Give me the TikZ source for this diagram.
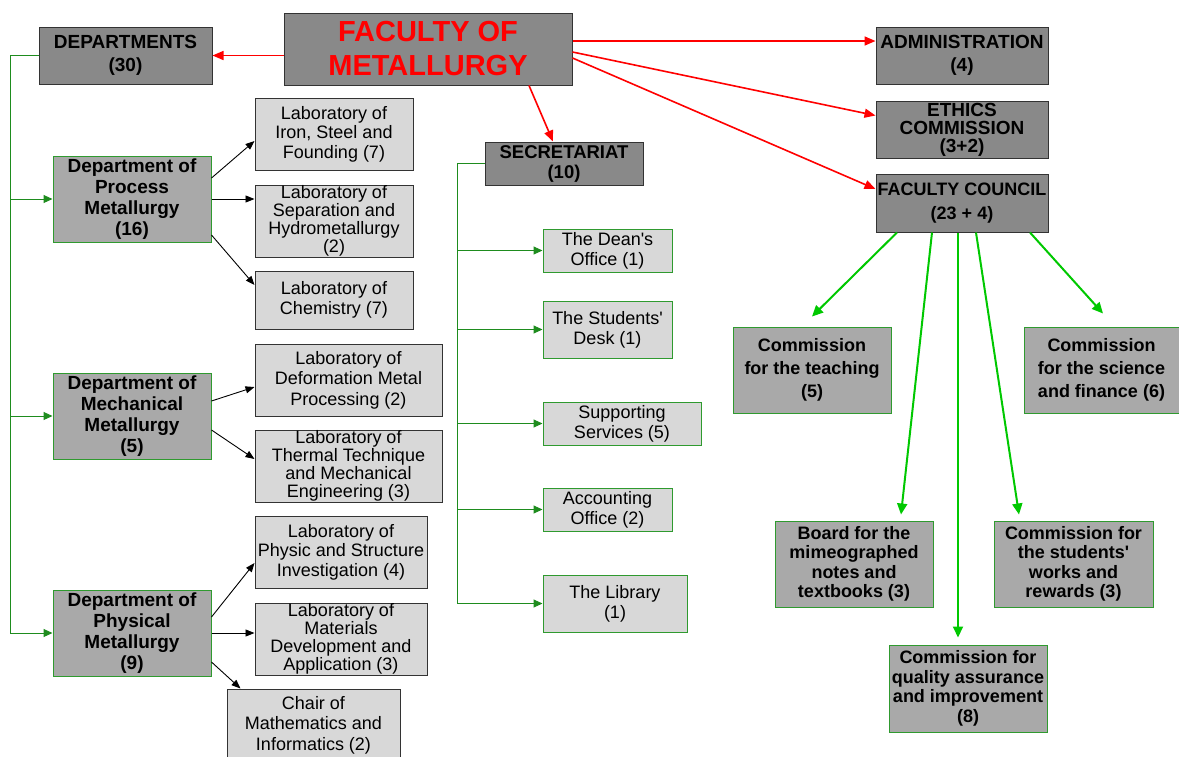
\documentclass[tikz,border=0pt]{standalone}
\usepackage{fontspec}
\setmainfont{Liberation Sans}
\usetikzlibrary{arrows.meta}
\definecolor{boxdark}{HTML}{898989}
\definecolor{boxmid}{HTML}{A9A9A9}
\definecolor{boxlight}{HTML}{D8D8D8}
\definecolor{edgegreen}{HTML}{2F9A2F}
\definecolor{treegreen}{HTML}{1E8C1E}
\definecolor{limegreen}{HTML}{00C800}
\begin{document}
\begin{tikzpicture}[x=1pt, y=-1pt,
  topbox/.style={draw=black!80, line width=1pt, fill=boxdark, align=center, inner sep=0pt, font=\bfseries\fontsize{19}{23.5}\selectfont},
  deptbox/.style={draw=edgegreen, line width=1pt, fill=boxmid, align=center, inner sep=0pt, minimum width=158pt, minimum height=86pt, font=\bfseries\fontsize{19}{21}\selectfont},
  labbox/.style={draw=black!80, line width=1pt, fill=boxlight, align=center, inner sep=0pt, font=\fontsize{18}{19.5}\selectfont},
  officebox/.style={draw=edgegreen, line width=1pt, fill=boxlight, align=center, inner sep=0pt, font=\fontsize{18}{20}\selectfont},
  commbox/.style={draw=edgegreen, line width=1pt, fill=boxmid, align=center, inner sep=0pt, minimum height=86pt, font=\bfseries\fontsize{18}{19.5}\selectfont},
  redarrow/.style={draw=red, line width=1.6pt, -{Triangle[length=11pt, width=9pt]}},
  treeline/.style={draw=treegreen, line width=1pt},
  treearrow/.style={draw=treegreen, line width=1pt, -{Triangle[length=9pt, width=8pt]}},
  blackarrow/.style={draw=black, line width=0.9pt, -{Triangle[length=9pt, width=7pt]}},
  limearrow/.style={draw=limegreen, line width=2pt, -{Triangle[length=11pt, width=10pt]}}]
\useasboundingbox (0,0) rectangle (1179,756);

\node[topbox, minimum width=288pt, minimum height=72pt, text=red, font=\bfseries\fontsize{29}{34}\selectfont] (faculty) at (428,49) {FACULTY OF\\METALLURGY};
\node[topbox, minimum width=173pt, minimum height=57pt] (departments) at (125.5,55.5) {DEPARTMENTS\\(30)};
\node[topbox, minimum width=172pt, minimum height=57pt] (admin) at (962,55.5) {ADMINISTRATION\\(4)};
\node[topbox, minimum width=172pt, minimum height=57pt, font=\bfseries\fontsize{19}{18}\selectfont] (ethics) at (962,129.5) {ETHICS\\COMMISSION\\(3+2)};
\node[topbox, minimum width=172pt, minimum height=58pt, font=\bfseries\fontsize{18}{23.5}\selectfont] (council) at (962,203) {FACULTY COUNCIL\\(23 + 4)};
\node[topbox, minimum width=158pt, minimum height=43pt, font=\bfseries\fontsize{18.5}{20}\selectfont] (secretariat) at (564,163.5) {SECRETARIAT\\(10)};

\node[deptbox] (process) at (132,199) {Department of\\Process\\Metallurgy\\(16)};
\node[deptbox] (mechanical) at (132,416) {Department of\\Mechanical\\Metallurgy\\(5)};
\node[deptbox] (physical) at (132,633) {Department of\\Physical\\Metallurgy\\(9)};

\node[labbox, minimum width=158pt, minimum height=72pt] (labiron) at (334,134) {Laboratory of\\Iron, Steel and\\Founding (7)};
\node[labbox, minimum width=158pt, minimum height=72pt, font=\fontsize{18}{18}\selectfont] (labsep) at (334,221) {Laboratory of\\Separation and\\Hydrometallurgy\\(2)};
\node[labbox, minimum width=158pt, minimum height=58pt, font=\fontsize{18}{20.5}\selectfont] (labchem) at (334,300) {Laboratory of\\Chemistry (7)};
\node[labbox, minimum width=187pt, minimum height=72pt, font=\fontsize{18}{20.5}\selectfont] (labdef) at (348.5,380) {Laboratory of\\Deformation Metal\\Processing (2)};
\node[labbox, minimum width=187pt, minimum height=72pt, font=\fontsize{18}{18}\selectfont] (labtherm) at (348.5,466) {Laboratory of\\Thermal Technique\\and Mechanical\\Engineering (3)};
\node[labbox, minimum width=172pt, minimum height=72pt] (labphys) at (341,552) {Laboratory of\\Physic and Structure\\Investigation (4)};
\node[labbox, minimum width=172pt, minimum height=72pt, font=\fontsize{18}{18}\selectfont] (labmat) at (341,639) {Laboratory of\\Materials\\Development and\\Application (3)};
\node[labbox, minimum width=173pt, minimum height=72pt, font=\fontsize{18}{20.5}\selectfont] (chair) at (313.5,725) {Chair of\\Mathematics and\\Informatics (2)};

\node[officebox, minimum width=129pt, minimum height=43pt] (dean) at (607.5,250.5) {The Dean\textquotesingle s\\Office (1)};
\node[officebox, minimum width=129pt, minimum height=57pt] (desk) at (607.5,329.5) {The Students\textquotesingle\\Desk (1)};
\node[officebox, minimum width=158pt, minimum height=43pt] (support) at (622,423.5) {Supporting\\Services (5)};
\node[officebox, minimum width=129pt, minimum height=43pt] (accounting) at (607.5,509.5) {Accounting\\Office (2)};
\node[officebox, minimum width=144pt, minimum height=57pt] (library) at (615,603.5) {The Library\\(1)};

\node[commbox, minimum width=158pt, font=\bfseries\fontsize{18}{23}\selectfont] (commteach) at (812,370) {Commission\\for the teaching\\(5)};
\node[commbox, minimum width=155pt, font=\bfseries\fontsize{18}{23}\selectfont] (commsci) at (1101.5,370) {Commission\\for the science\\and finance (6)};
\node[commbox, minimum width=158pt] (board) at (854,564) {Board for the\\mimeographed\\notes and\\textbooks (3)};
\node[commbox, minimum width=159pt] (commstud) at (1073.5,564) {Commission for\\the students\textquotesingle\\works and\\rewards (3)};
\node[commbox, minimum width=158pt, minimum height=87pt] (commqual) at (968,688.5) {Commission for\\quality assurance\\and improvement\\(8)};

\draw[redarrow] (faculty.west |- departments.east) -- (departments.east);
\draw[redarrow] ([yshift=8pt]faculty.east) -- ([yshift=8pt]faculty.east -| admin.west);
\draw[redarrow] ([yshift=-3pt]faculty.east) -- ([yshift=14pt]ethics.west);
\draw[redarrow] ([yshift=-9pt]faculty.east) -- ([yshift=14pt]council.west);
\draw[redarrow] ([xshift=101pt]faculty.south) -- ([xshift=-11pt]secretariat.north);

\coordinate (dtrunk) at (10,55.5);
\draw[treeline] (departments.west) -| (dtrunk |- physical.west);
\foreach \d in {process, mechanical, physical}
  \draw[treearrow] (dtrunk |- \d.west) -- (\d.west);

\coordinate (strunk) at (457,163.5);
\draw[treeline] (secretariat.west) -| (strunk |- library.west);
\foreach \o in {dean, desk, support, accounting, library}
  \draw[treearrow] (strunk |- \o.west) -- (\o.west);

\draw[blackarrow] ([yshift=21pt]process.east) -- ([yshift=-7pt]labiron.west);
\draw[blackarrow] (process.east) -- (process.east -| labsep.west);
\draw[blackarrow] ([yshift=-36pt]process.east) -- ([yshift=15pt]labchem.west);
\draw[blackarrow] ([yshift=15pt]mechanical.east) -- ([yshift=-7pt]labdef.west);
\draw[blackarrow] ([yshift=-14pt]mechanical.east) -- ([yshift=7pt]labtherm.west);
\draw[blackarrow] ([yshift=16pt]physical.east) -- ([yshift=-11pt]labphys.west);
\draw[blackarrow] (physical.east) -- (physical.east -| labmat.west);
\draw[blackarrow] ([yshift=-29pt]physical.east) -- ([xshift=-73pt]chair.north);

\draw[limearrow] ([xshift=-65pt]council.south) -- ([yshift=10pt]commteach.north);
\draw[limearrow] ([xshift=-30pt]council.south) -- ([xshift=47pt,yshift=6pt]board.north);
\draw[limearrow] ([xshift=-4pt]council.south) -- ([xshift=-10pt,yshift=7pt]commqual.north);
\draw[limearrow] ([xshift=14pt]council.south) -- ([xshift=-54.5pt,yshift=6pt]commstud.north);
\draw[limearrow] ([xshift=68pt]council.south) -- ([xshift=1.5pt,yshift=13pt]commsci.north);
\end{tikzpicture}
\end{document}
